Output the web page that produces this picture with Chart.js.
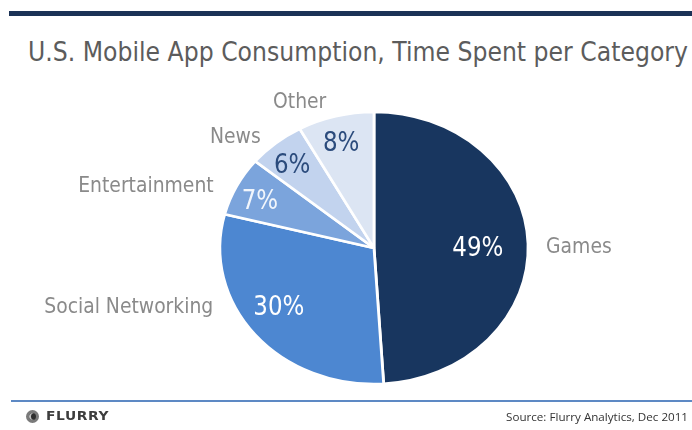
<!DOCTYPE html>
<html><head><meta charset="utf-8">
<script src="https://cdn.jsdelivr.net/npm/chart.js@4/dist/chart.umd.min.js"></script>
<style>
html,body{margin:0;padding:0;background:#fff;}
#wrap{position:relative;width:692px;height:430px;overflow:hidden;background:#fff;}
#topbar{position:absolute;left:9px;top:11px;width:683px;height:5px;background:#1b3256;}
#title{position:absolute;left:28px;top:39px;font-family:"Liberation Sans Narrow","DejaVu Sans Condensed","Liberation Sans",sans-serif;font-size:26px;line-height:26px;color:#5c5c5c;white-space:nowrap;transform-origin:0 0;}
#footline{position:absolute;left:11px;top:400px;width:681px;height:2px;background:#5d89c4;}
#icon{position:absolute;left:26px;top:410px;width:7px;height:7px;border-radius:50%;border:3px solid #7a7a7a;background:#2e2e2e;box-shadow:inset 2px 0 0 #bdbdbd;}
#brand{position:absolute;left:46px;top:409px;font-family:"DejaVu Sans","Liberation Sans",sans-serif;font-weight:bold;font-size:12px;line-height:15px;letter-spacing:0.5px;color:#3d3d3d;white-space:nowrap;transform-origin:0 0;}
#source{position:absolute;left:506px;top:409px;font-family:"Open Sans","Liberation Sans",sans-serif;font-size:11px;line-height:15px;color:#333;white-space:nowrap;transform-origin:0 0;}
canvas{position:absolute;left:0;top:0;}
</style></head>
<body>
<div id="wrap">
  <div id="topbar"></div>
  <div id="title">U.S. Mobile App Consumption, Time Spent per Category</div>
  <canvas id="c" width="692" height="430" style="width:692px;height:430px"></canvas>
  <div id="footline"></div>
  <div id="icon"></div>
  <div id="brand">FLURRY</div>
  <div id="source">Source: Flurry Analytics, Dec 2011</div>
</div>
<script>
// ---- data ----
const categories = ['Games', 'Social Networking', 'Entertainment', 'News', 'Other'];
const shares = [49, 30, 7, 6, 8];
const percentLabels = ['49%', '30%', '7%', '6%', '8%'];

// ---- styles ----
const sliceColors = ['#18365f', '#4d87d1', '#7ba4dc', '#c2d3ee', '#dce5f3'];
const pctColors = ['#ffffff', '#ffffff', '#f2f6fc', '#2b4b7c', '#2b4b7c'];
const labelFont = '"Liberation Sans Narrow","DejaVu Sans Condensed","Liberation Sans",sans-serif';

// fit HTML texts to their widths in the reference
function fit(id, w){ const el=document.getElementById(id); const cw=el.getBoundingClientRect().width; el.style.transform='scaleX('+(w/cw)+')'; }
fit('title', 660); fit('brand', 63); fit('source', 182);

const ellipseLabels = {
  id: 'ellipseLabels',
  beforeDatasetsDraw(chart, args, o){
    const a = chart.getDatasetMeta(0).data[0];
    const ctx = chart.ctx;
    ctx.save();
    ctx.translate(a.x, a.y); ctx.scale(o.sx, 1); ctx.translate(-a.x, -a.y);
  },
  afterDatasetsDraw(chart, args, o){
    const ctx = chart.ctx;
    ctx.restore();
    const meta = chart.getDatasetMeta(0);
    function txt(t, x, y, font, color, align, s){
      ctx.save(); ctx.font = font; ctx.fillStyle = color; ctx.textAlign = align; ctx.textBaseline = 'middle';
      ctx.translate(x, y); ctx.scale(s, 1); ctx.fillText(t, 0, 0); ctx.restore();
    }
    const outFont = '22px ' + labelFont, pctFont = '26px ' + labelFont;
    ctx.font = outFont; const sOut = 169 / ctx.measureText('Social Networking').width;
    ctx.font = pctFont; const sPct = 51 / ctx.measureText('49%').width;
    meta.data.forEach((arc, i) => {
      const mid = (arc.startAngle + arc.endAngle) / 2;
      const r = arc.outerRadius;
      const cx = Math.cos(mid) * r * o.sx, cy = Math.sin(mid) * r;
      const pi = o.pct[i];
      txt(percentLabels[i], arc.x + cx * o.frac + pi[0], arc.y + cy * o.frac + pi[1] + o.dy, pctFont, pctColors[i], 'center', sPct);
      const oi = o.out[i];
      txt(categories[i], arc.x + cx + oi[0], arc.y + cy + oi[1] + o.dy, outFont, '#8a8a8a', oi[2], sOut);
    });
  }
};

new Chart(document.getElementById('c'), {
  type: 'pie',
  data: { labels: categories, datasets: [{ data: shares, backgroundColor: sliceColors, borderColor: '#ffffff', borderWidth: 2.5, radius: 136 }] },
  options: {
    responsive: false, animation: false, events: [],
    layout: { padding: { left: 100, right: 44, top: 100, bottom: 34 } },
    plugins: {
      legend: { display: false }, tooltip: { enabled: false },
      ellipseLabels: {
        sx: 153 / 135, frac: 0.7, dy: 2,
        pct: [[-4, 2], [-12, -2], [-18, -5], [-13, -10], [-6, -14]],
        out: [[18, 2, 'left'], [-42, -29, 'right'], [-23, -2, 'right'], [-15, -8, 'right'], [-36, -16, 'center']]
      }
    }
  },
  plugins: [ellipseLabels]
});
</script>
</body></html>
